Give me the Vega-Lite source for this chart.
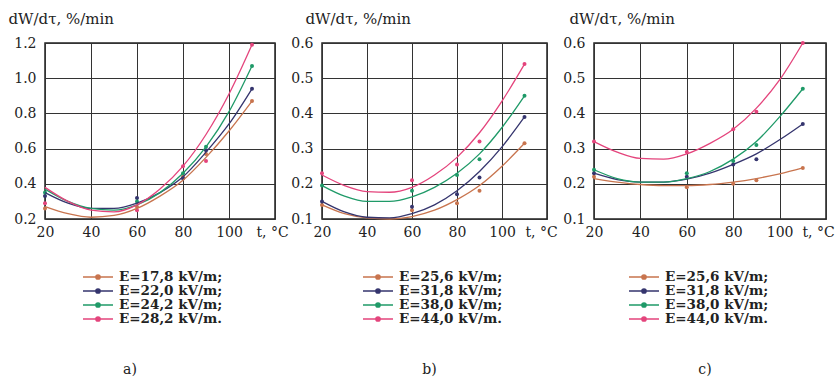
{
  "$schema": "https://vega.github.io/schema/vega-lite/v6.json",
  "padding": {"left": 7, "top": 10, "right": 5, "bottom": 5},
  "background": "white",
  "config": {
    "font": "DejaVu Serif",
    "view": {"stroke": "#222", "strokeWidth": 1.5},
    "axis": {"labelFont": "DejaVu Serif", "labelFontSize": 14, "labelColor": "#222", "gridColor": "#333", "gridWidth": 1, "gridOpacity": 1, "domain": false, "ticks": false, "titleFont": "DejaVu Serif", "titleFontWeight": "normal", "titleColor": "#222"},
    "legend": {"labelFont": "DejaVu Serif", "labelFontWeight": "bold", "labelFontSize": 13.5, "labelColor": "#222", "rowPadding": -0.5, "symbolSize": 144, "symbolStrokeWidth": 1.5, "labelOffset": 14, "symbolType": "M-2.5,0H2.5M-0.35,0A0.35,0.35,0,1,1,0.35,0A0.35,0.35,0,1,1,-0.35,0Z", "orient": "none"},
    "title": {"font": "DejaVu Serif", "fontWeight": "normal", "fontSize": 14, "color": "#222"}
  },
  "datasets": {
    "a_curve": [
      {"E": "E=17,8 kV/m;", "t": 20, "v": 0.27}, {"E": "E=17,8 kV/m;", "t": 30, "v": 0.23}, {"E": "E=17,8 kV/m;", "t": 40, "v": 0.21}, {"E": "E=17,8 kV/m;", "t": 50, "v": 0.22}, {"E": "E=17,8 kV/m;", "t": 60, "v": 0.26}, {"E": "E=17,8 kV/m;", "t": 70, "v": 0.33}, {"E": "E=17,8 kV/m;", "t": 80, "v": 0.42}, {"E": "E=17,8 kV/m;", "t": 90, "v": 0.55}, {"E": "E=17,8 kV/m;", "t": 100, "v": 0.70}, {"E": "E=17,8 kV/m;", "t": 110, "v": 0.87},
      {"E": "E=22,0 kV/m;", "t": 20, "v": 0.35}, {"E": "E=22,0 kV/m;", "t": 30, "v": 0.29}, {"E": "E=22,0 kV/m;", "t": 40, "v": 0.26}, {"E": "E=22,0 kV/m;", "t": 50, "v": 0.26}, {"E": "E=22,0 kV/m;", "t": 60, "v": 0.29}, {"E": "E=22,0 kV/m;", "t": 70, "v": 0.35}, {"E": "E=22,0 kV/m;", "t": 80, "v": 0.44}, {"E": "E=22,0 kV/m;", "t": 90, "v": 0.58}, {"E": "E=22,0 kV/m;", "t": 100, "v": 0.74}, {"E": "E=22,0 kV/m;", "t": 110, "v": 0.94},
      {"E": "E=24,2 kV/m;", "t": 20, "v": 0.37}, {"E": "E=24,2 kV/m;", "t": 30, "v": 0.30}, {"E": "E=24,2 kV/m;", "t": 40, "v": 0.26}, {"E": "E=24,2 kV/m;", "t": 50, "v": 0.25}, {"E": "E=24,2 kV/m;", "t": 60, "v": 0.28}, {"E": "E=24,2 kV/m;", "t": 70, "v": 0.35}, {"E": "E=24,2 kV/m;", "t": 80, "v": 0.46}, {"E": "E=24,2 kV/m;", "t": 90, "v": 0.61}, {"E": "E=24,2 kV/m;", "t": 100, "v": 0.81}, {"E": "E=24,2 kV/m;", "t": 110, "v": 1.07},
      {"E": "E=28,2 kV/m.", "t": 20, "v": 0.38}, {"E": "E=28,2 kV/m.", "t": 30, "v": 0.30}, {"E": "E=28,2 kV/m.", "t": 40, "v": 0.25}, {"E": "E=28,2 kV/m.", "t": 50, "v": 0.24}, {"E": "E=28,2 kV/m.", "t": 60, "v": 0.28}, {"E": "E=28,2 kV/m.", "t": 70, "v": 0.37}, {"E": "E=28,2 kV/m.", "t": 80, "v": 0.50}, {"E": "E=28,2 kV/m.", "t": 90, "v": 0.68}, {"E": "E=28,2 kV/m.", "t": 100, "v": 0.91}, {"E": "E=28,2 kV/m.", "t": 110, "v": 1.19}
    ],
    "a_pts": [
      {"E": "E=17,8 kV/m;", "t": 20, "v": 0.26}, {"E": "E=17,8 kV/m;", "t": 60, "v": 0.27}, {"E": "E=17,8 kV/m;", "t": 80, "v": 0.44}, {"E": "E=17,8 kV/m;", "t": 90, "v": 0.57}, {"E": "E=17,8 kV/m;", "t": 110, "v": 0.87},
      {"E": "E=22,0 kV/m;", "t": 20, "v": 0.33}, {"E": "E=22,0 kV/m;", "t": 60, "v": 0.32}, {"E": "E=22,0 kV/m;", "t": 80, "v": 0.43}, {"E": "E=22,0 kV/m;", "t": 90, "v": 0.59}, {"E": "E=22,0 kV/m;", "t": 110, "v": 0.94},
      {"E": "E=24,2 kV/m;", "t": 20, "v": 0.35}, {"E": "E=24,2 kV/m;", "t": 60, "v": 0.30}, {"E": "E=24,2 kV/m;", "t": 80, "v": 0.46}, {"E": "E=24,2 kV/m;", "t": 90, "v": 0.61}, {"E": "E=24,2 kV/m;", "t": 110, "v": 1.07},
      {"E": "E=28,2 kV/m.", "t": 20, "v": 0.29}, {"E": "E=28,2 kV/m.", "t": 60, "v": 0.25}, {"E": "E=28,2 kV/m.", "t": 80, "v": 0.50}, {"E": "E=28,2 kV/m.", "t": 90, "v": 0.53}, {"E": "E=28,2 kV/m.", "t": 110, "v": 1.19}
    ],
    "b_curve": [
      {"E": "E=25,6 kV/m;", "t": 20, "v": 0.14}, {"E": "E=25,6 kV/m;", "t": 30, "v": 0.115}, {"E": "E=25,6 kV/m;", "t": 40, "v": 0.103}, {"E": "E=25,6 kV/m;", "t": 50, "v": 0.10}, {"E": "E=25,6 kV/m;", "t": 60, "v": 0.107}, {"E": "E=25,6 kV/m;", "t": 70, "v": 0.125}, {"E": "E=25,6 kV/m;", "t": 80, "v": 0.155}, {"E": "E=25,6 kV/m;", "t": 90, "v": 0.195}, {"E": "E=25,6 kV/m;", "t": 100, "v": 0.25}, {"E": "E=25,6 kV/m;", "t": 110, "v": 0.315},
      {"E": "E=31,8 kV/m;", "t": 20, "v": 0.15}, {"E": "E=31,8 kV/m;", "t": 30, "v": 0.12}, {"E": "E=31,8 kV/m;", "t": 40, "v": 0.105}, {"E": "E=31,8 kV/m;", "t": 50, "v": 0.103}, {"E": "E=31,8 kV/m;", "t": 60, "v": 0.115}, {"E": "E=31,8 kV/m;", "t": 70, "v": 0.14}, {"E": "E=31,8 kV/m;", "t": 80, "v": 0.18}, {"E": "E=31,8 kV/m;", "t": 90, "v": 0.235}, {"E": "E=31,8 kV/m;", "t": 100, "v": 0.305}, {"E": "E=31,8 kV/m;", "t": 110, "v": 0.39},
      {"E": "E=38,0 kV/m;", "t": 20, "v": 0.195}, {"E": "E=38,0 kV/m;", "t": 30, "v": 0.165}, {"E": "E=38,0 kV/m;", "t": 40, "v": 0.15}, {"E": "E=38,0 kV/m;", "t": 50, "v": 0.15}, {"E": "E=38,0 kV/m;", "t": 60, "v": 0.163}, {"E": "E=38,0 kV/m;", "t": 70, "v": 0.19}, {"E": "E=38,0 kV/m;", "t": 80, "v": 0.23}, {"E": "E=38,0 kV/m;", "t": 90, "v": 0.285}, {"E": "E=38,0 kV/m;", "t": 100, "v": 0.36}, {"E": "E=38,0 kV/m;", "t": 110, "v": 0.45},
      {"E": "E=44,0 kV/m.", "t": 20, "v": 0.225}, {"E": "E=44,0 kV/m.", "t": 30, "v": 0.195}, {"E": "E=44,0 kV/m.", "t": 40, "v": 0.178}, {"E": "E=44,0 kV/m.", "t": 50, "v": 0.176}, {"E": "E=44,0 kV/m.", "t": 60, "v": 0.19}, {"E": "E=44,0 kV/m.", "t": 70, "v": 0.225}, {"E": "E=44,0 kV/m.", "t": 80, "v": 0.275}, {"E": "E=44,0 kV/m.", "t": 90, "v": 0.345}, {"E": "E=44,0 kV/m.", "t": 100, "v": 0.435}, {"E": "E=44,0 kV/m.", "t": 110, "v": 0.54}
    ],
    "b_pts": [
      {"E": "E=25,6 kV/m;", "t": 20, "v": 0.14}, {"E": "E=25,6 kV/m;", "t": 60, "v": 0.125}, {"E": "E=25,6 kV/m;", "t": 80, "v": 0.145}, {"E": "E=25,6 kV/m;", "t": 90, "v": 0.18}, {"E": "E=25,6 kV/m;", "t": 110, "v": 0.315},
      {"E": "E=31,8 kV/m;", "t": 20, "v": 0.15}, {"E": "E=31,8 kV/m;", "t": 60, "v": 0.135}, {"E": "E=31,8 kV/m;", "t": 80, "v": 0.17}, {"E": "E=31,8 kV/m;", "t": 90, "v": 0.218}, {"E": "E=31,8 kV/m;", "t": 110, "v": 0.39},
      {"E": "E=38,0 kV/m;", "t": 20, "v": 0.195}, {"E": "E=38,0 kV/m;", "t": 60, "v": 0.18}, {"E": "E=38,0 kV/m;", "t": 80, "v": 0.225}, {"E": "E=38,0 kV/m;", "t": 90, "v": 0.27}, {"E": "E=38,0 kV/m;", "t": 110, "v": 0.45},
      {"E": "E=44,0 kV/m.", "t": 20, "v": 0.23}, {"E": "E=44,0 kV/m.", "t": 60, "v": 0.21}, {"E": "E=44,0 kV/m.", "t": 80, "v": 0.255}, {"E": "E=44,0 kV/m.", "t": 90, "v": 0.32}, {"E": "E=44,0 kV/m.", "t": 110, "v": 0.54}
    ],
    "c_curve": [
      {"E": "E=25,6 kV/m;", "t": 20, "v": 0.215}, {"E": "E=25,6 kV/m;", "t": 30, "v": 0.205}, {"E": "E=25,6 kV/m;", "t": 40, "v": 0.198}, {"E": "E=25,6 kV/m;", "t": 50, "v": 0.195}, {"E": "E=25,6 kV/m;", "t": 60, "v": 0.195}, {"E": "E=25,6 kV/m;", "t": 70, "v": 0.198}, {"E": "E=25,6 kV/m;", "t": 80, "v": 0.205}, {"E": "E=25,6 kV/m;", "t": 90, "v": 0.215}, {"E": "E=25,6 kV/m;", "t": 100, "v": 0.228}, {"E": "E=25,6 kV/m;", "t": 110, "v": 0.245},
      {"E": "E=31,8 kV/m;", "t": 20, "v": 0.23}, {"E": "E=31,8 kV/m;", "t": 30, "v": 0.212}, {"E": "E=31,8 kV/m;", "t": 40, "v": 0.205}, {"E": "E=31,8 kV/m;", "t": 50, "v": 0.205}, {"E": "E=31,8 kV/m;", "t": 60, "v": 0.213}, {"E": "E=31,8 kV/m;", "t": 70, "v": 0.23}, {"E": "E=31,8 kV/m;", "t": 80, "v": 0.255}, {"E": "E=31,8 kV/m;", "t": 90, "v": 0.285}, {"E": "E=31,8 kV/m;", "t": 100, "v": 0.325}, {"E": "E=31,8 kV/m;", "t": 110, "v": 0.37},
      {"E": "E=38,0 kV/m;", "t": 20, "v": 0.24}, {"E": "E=38,0 kV/m;", "t": 30, "v": 0.215}, {"E": "E=38,0 kV/m;", "t": 40, "v": 0.205}, {"E": "E=38,0 kV/m;", "t": 50, "v": 0.205}, {"E": "E=38,0 kV/m;", "t": 60, "v": 0.215}, {"E": "E=38,0 kV/m;", "t": 70, "v": 0.235}, {"E": "E=38,0 kV/m;", "t": 80, "v": 0.27}, {"E": "E=38,0 kV/m;", "t": 90, "v": 0.32}, {"E": "E=38,0 kV/m;", "t": 100, "v": 0.39}, {"E": "E=38,0 kV/m;", "t": 110, "v": 0.47},
      {"E": "E=44,0 kV/m.", "t": 20, "v": 0.32}, {"E": "E=44,0 kV/m.", "t": 30, "v": 0.29}, {"E": "E=44,0 kV/m.", "t": 40, "v": 0.272}, {"E": "E=44,0 kV/m.", "t": 50, "v": 0.27}, {"E": "E=44,0 kV/m.", "t": 60, "v": 0.285}, {"E": "E=44,0 kV/m.", "t": 70, "v": 0.315}, {"E": "E=44,0 kV/m.", "t": 80, "v": 0.355}, {"E": "E=44,0 kV/m.", "t": 90, "v": 0.415}, {"E": "E=44,0 kV/m.", "t": 100, "v": 0.495}, {"E": "E=44,0 kV/m.", "t": 110, "v": 0.60}
    ],
    "c_pts": [
      {"E": "E=25,6 kV/m;", "t": 20, "v": 0.22}, {"E": "E=25,6 kV/m;", "t": 60, "v": 0.19}, {"E": "E=25,6 kV/m;", "t": 80, "v": 0.20}, {"E": "E=25,6 kV/m;", "t": 90, "v": 0.21}, {"E": "E=25,6 kV/m;", "t": 110, "v": 0.245},
      {"E": "E=31,8 kV/m;", "t": 20, "v": 0.23}, {"E": "E=31,8 kV/m;", "t": 60, "v": 0.22}, {"E": "E=31,8 kV/m;", "t": 80, "v": 0.255}, {"E": "E=31,8 kV/m;", "t": 90, "v": 0.27}, {"E": "E=31,8 kV/m;", "t": 110, "v": 0.37},
      {"E": "E=38,0 kV/m;", "t": 20, "v": 0.24}, {"E": "E=38,0 kV/m;", "t": 60, "v": 0.23}, {"E": "E=38,0 kV/m;", "t": 80, "v": 0.265}, {"E": "E=38,0 kV/m;", "t": 90, "v": 0.31}, {"E": "E=38,0 kV/m;", "t": 110, "v": 0.47},
      {"E": "E=44,0 kV/m.", "t": 20, "v": 0.32}, {"E": "E=44,0 kV/m.", "t": 60, "v": 0.29}, {"E": "E=44,0 kV/m.", "t": 80, "v": 0.355}, {"E": "E=44,0 kV/m.", "t": 90, "v": 0.405}, {"E": "E=44,0 kV/m.", "t": 110, "v": 0.60}
    ]
  },
  "hconcat": [
    {
      "width": 230, "height": 176,
      "title": {"text": "a)", "orient": "bottom", "offset": 37, "dx": -30},
      "encoding": {
        "x": {"field": "t", "type": "quantitative", "scale": {"domain": [20, 120], "nice": false}, "axis": {"values": [20, 40, 60, 80, 100, 120], "title": null, "labelPadding": 6, "labelExpr": "datum.value == 120 ? 't, °C' : datum.label", "labelFlush": false, "labelOffset": {"condition": {"test": "datum.value == 120", "value": -3}, "value": 0}}},
        "y": {"field": "v", "type": "quantitative", "scale": {"domain": [0.2, 1.2], "nice": false, "zero": false}, "axis": {"values": [0.2, 0.4, 0.6, 0.8, 1.0, 1.2], "format": ".1f", "labelPadding": 9, "title": "dW/dτ, %/min", "titleAngle": 0, "titleAlign": "left", "titleBaseline": "alphabetic", "titleX": -37, "titleY": -20, "titleFontSize": 15, "labelFlush": false}},
        "color": {"field": "E", "type": "nominal", "scale": {"domain": ["E=17,8 kV/m;", "E=22,0 kV/m;", "E=24,2 kV/m;", "E=28,2 kV/m."], "range": ["#c8744e", "#35356e", "#1f9a68", "#e4447c"]}, "legend": {"title": null, "legendX": 46, "legendY": 227}}
      },
      "layer": [
        {"data": {"name": "a_pts"}, "mark": {"type": "point", "filled": true, "size": 16, "opacity": 1}},
        {"data": {"name": "a_curve"}, "mark": {"type": "line", "interpolate": "monotone", "strokeWidth": 1.3}}
      ]
    },
    {
      "width": 225, "height": 176,
      "title": {"text": "b)", "orient": "bottom", "offset": 37, "dx": -5},
      "encoding": {
        "x": {"field": "t", "type": "quantitative", "scale": {"domain": [20, 120], "nice": false}, "axis": {"values": [20, 40, 60, 80, 100, 120], "title": null, "labelPadding": 6, "labelExpr": "datum.value == 120 ? 't, °C' : datum.label", "labelFlush": false, "labelOffset": {"condition": {"test": "datum.value == 120", "value": -6}, "value": 0}}},
        "y": {"field": "v", "type": "quantitative", "scale": {"domain": [0.1, 0.6], "nice": false, "zero": false}, "axis": {"values": [0.1, 0.2, 0.3, 0.4, 0.5, 0.6], "format": ".1f", "labelPadding": 9, "title": "dW/dτ, %/min", "titleAngle": 0, "titleAlign": "left", "titleBaseline": "alphabetic", "titleX": -17, "titleY": -20, "titleFontSize": 15, "labelFlush": false}},
        "color": {"field": "E", "type": "nominal", "scale": {"domain": ["E=25,6 kV/m;", "E=31,8 kV/m;", "E=38,0 kV/m;", "E=44,0 kV/m."], "range": ["#c8744e", "#35356e", "#1f9a68", "#e4447c"]}, "legend": {"title": null, "legendX": 49, "legendY": 227}}
      },
      "layer": [
        {"data": {"name": "b_pts"}, "mark": {"type": "point", "filled": true, "size": 16, "opacity": 1}},
        {"data": {"name": "b_curve"}, "mark": {"type": "line", "interpolate": "monotone", "strokeWidth": 1.3}}
      ]
    },
    {
      "width": 232, "height": 176,
      "title": {"text": "c)", "orient": "bottom", "offset": 37, "dx": -5},
      "encoding": {
        "x": {"field": "t", "type": "quantitative", "scale": {"domain": [20, 120], "nice": false}, "axis": {"values": [20, 40, 60, 80, 100, 120], "title": null, "labelPadding": 6, "labelExpr": "datum.value == 120 ? 't, °C' : datum.label", "labelFlush": false, "labelOffset": {"condition": {"test": "datum.value == 120", "value": -8}, "value": 0}}},
        "y": {"field": "v", "type": "quantitative", "scale": {"domain": [0.1, 0.6], "nice": false, "zero": false}, "axis": {"values": [0.1, 0.2, 0.3, 0.4, 0.5, 0.6], "format": ".1f", "labelPadding": 9, "title": "dW/dτ, %/min", "titleAngle": 0, "titleAlign": "left", "titleBaseline": "alphabetic", "titleX": -25, "titleY": -20, "titleFontSize": 15, "labelFlush": false}},
        "color": {"field": "E", "type": "nominal", "scale": {"domain": ["E=25,6 kV/m;", "E=31,8 kV/m;", "E=38,0 kV/m;", "E=44,0 kV/m."], "range": ["#c8744e", "#35356e", "#1f9a68", "#e4447c"]}, "legend": {"title": null, "legendX": 43, "legendY": 227}}
      },
      "layer": [
        {"data": {"name": "c_pts"}, "mark": {"type": "point", "filled": true, "size": 16, "opacity": 1}},
        {"data": {"name": "c_curve"}, "mark": {"type": "line", "interpolate": "monotone", "strokeWidth": 1.3}}
      ]
    }
  ],
  "spacing": 47,
  "bounds": "flush",
  "resolve": {"scale": {"color": "independent", "x": "independent", "y": "independent"}, "legend": {"color": "independent"}, "axis": {"x": "independent", "y": "independent"}}
}
